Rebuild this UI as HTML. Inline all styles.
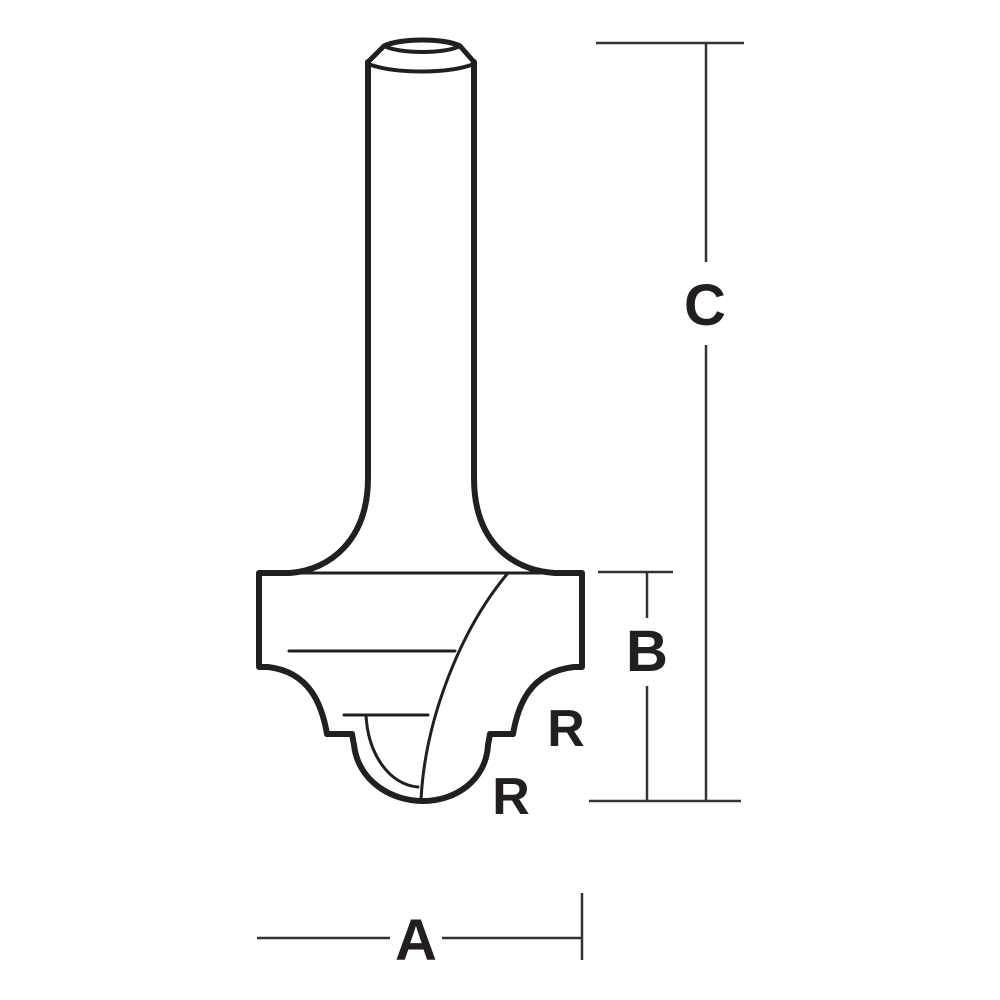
<!DOCTYPE html>
<html><head><meta charset="utf-8"><style>
html,body{margin:0;padding:0;background:#fff;}
svg{display:block;}
text{font-family:"Liberation Sans",sans-serif;font-weight:bold;fill:#231f20;}
</style></head><body>
<svg width="1000" height="1000" viewBox="0 0 1000 1000" xmlns="http://www.w3.org/2000/svg">
<g fill="none" stroke="#231f20" stroke-linejoin="round" stroke-linecap="round">
<!-- outline -->
<path stroke-width="6" d="M368,62 L368,478 C368,540 330,570 290,573 L259,573 L259,667 L268,667 C310,672 322,705 327,734 L352,734 L354,745 C358,780 390,801 423,801 C456,801 486,780 488,745 L490,734 L513,734 C518,705 530,672 574,667 L582,667 L582,573 L555,573 C510,570 474,540 474,478 L474,62"/>
<!-- shank top bevel -->
<path stroke-width="5" d="M368,62 L384,46 C400,38 445,38 460,46 L474,62"/>
<path stroke-width="4" d="M384,46 C400,54 445,54 460,46"/>
<path stroke-width="4" d="M368,64 C395,74 448,74 474,64"/>
<!-- inner lines -->
<path stroke-width="3" d="M290,573 L555,573"/>
<path stroke-width="3" d="M289,651 L455,651"/>
<path stroke-width="3" d="M344,715 L428,715"/>
<path stroke-width="3" d="M508,573 C460,630 425,720 421,800"/>
<path stroke-width="3" d="M366,715 C368,755 390,785 418,787"/>
</g>
<g fill="none" stroke="#333" stroke-width="2.5">
<!-- C -->
<path d="M596,43 L744,43 M706,43 L706,262 M706,345 L706,801 M589,801 L741,801"/>
<!-- B -->
<path d="M598,572 L673,572 M647,572 L647,618 M647,686 L647,801"/>
<!-- A -->
<path d="M257,938 L390,938 M442,938 L582,938 M582,893 L582,960"/>
</g>
<text x="705" y="325" font-size="58" text-anchor="middle">C</text>
<text x="647" y="671" font-size="58" text-anchor="middle">B</text>
<text x="416" y="960" font-size="58" text-anchor="middle">A</text>
<text x="566" y="746" font-size="52" text-anchor="middle">R</text>
<text x="511" y="814" font-size="52" text-anchor="middle">R</text>
</svg>
</body></html>
